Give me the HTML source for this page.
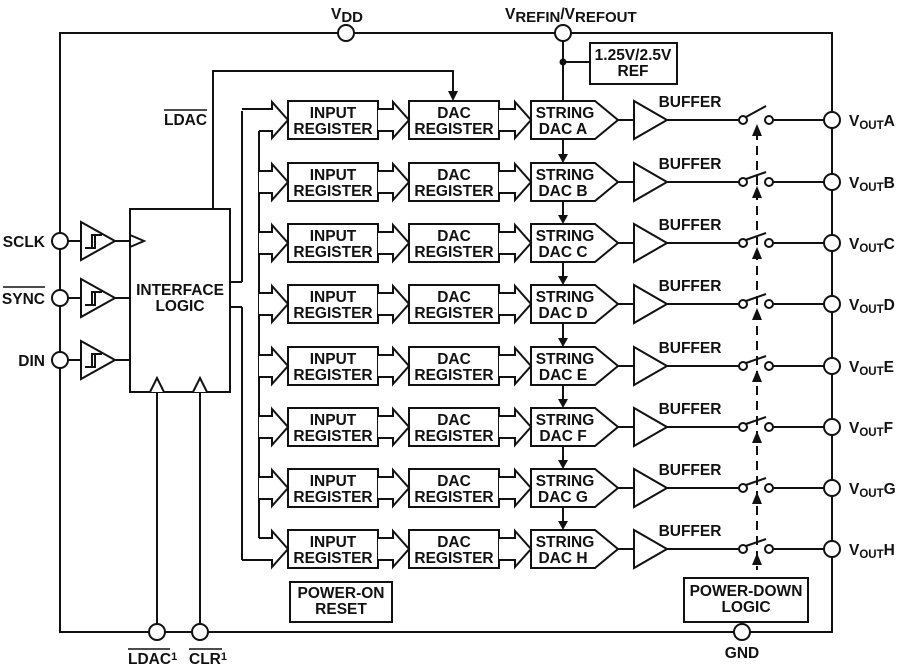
<!DOCTYPE html>
<html><head><meta charset="utf-8"><style>
html,body{margin:0;padding:0;background:#fff;}
svg{display:block;}
text{font-family:"Liberation Sans",Arial,sans-serif;font-weight:bold;font-size:15.5px;fill:#111;}
</style></head><body>
<svg width="899" height="669" viewBox="0 0 899 669" xmlns="http://www.w3.org/2000/svg">
<g fill="none" stroke="#111" stroke-width="2">
<rect x="60" y="33" width="772" height="599"/>
</g>
<script>
const NS="http://www.w3.org/2000/svg";
const svg=document.querySelector('svg');
function el(t,a,txt,parent){const e=document.createElementNS(NS,t);for(const k in a)e.setAttribute(k,a[k]);if(txt!=null)e.textContent=txt;(parent||svg).appendChild(e);return e;}
const S={fill:"none",stroke:"#111","stroke-width":2};
function line(x1,y1,x2,y2,extra){el('line',Object.assign({x1,y1,x2,y2},S,extra||{}));}
function pl(pts,fill){el('polyline',Object.assign({},S,{points:pts,fill:fill||"none"}));}
function circ(x,y,r){el('circle',{cx:x,cy:y,r:r,fill:"#fff",stroke:"#111","stroke-width":2});}
function txt(x,y,s,anchor,size){const a={x,y,"text-anchor":anchor||"middle"};if(size)a["font-size"]=size;return el('text',a,s);}
function rich(x,y,parts,anchor,size){const a={x,y,"text-anchor":anchor||"start"};if(size)a["font-size"]=size;const t=el('text',a);parts.forEach(p=>{const a={};if(p[1])a["font-size"]=p[1];if(p[2])a.dy=p[2];el('tspan',a,p[0],t);});return t;}
function hollow(x0,x1,r){
  const hb=x1-16;
  pl(`${x0},${r-11} ${hb},${r-11} ${hb},${r-18} ${x1},${r} ${hb},${r+18} ${hb},${r+11} ${x0},${r+11}`,"#fff");
}
const rows=[120,182,243,304,366,427,488,549];
const L="ABCDEFGH";
line(242,111,242,282); line(230,282,242,282);
line(242,307,242,560); line(230,307,242,307);
line(259,131,259,538);
rows.forEach((r,i)=>{
  hollow(259,288,r);
  if(i==0) line(242,109,259,109);
  if(i==7) line(242,560,259,560);
  el('rect',Object.assign({x:288,y:r-19,width:90,height:38},S));
  txt(333,r-2,"INPUT"); txt(333,r+14,"REGISTER");
  hollow(378,409,r);
  el('rect',Object.assign({x:409,y:r-19,width:90,height:38},S));
  txt(454,r-2,"DAC"); txt(454,r+14,"REGISTER");
  hollow(499,531,r);
  el('polygon',Object.assign({},S,{points:`531,${r-19} 595,${r-19} 618,${r} 595,${r+19} 531,${r+19}`}));
  txt(565,r-2,"STRING"); txt(563,r+14,"DAC "+L[i]);
  line(618,r,634,r);
  el('polygon',Object.assign({},S,{points:`634,${r-19} 667,${r} 634,${r+19}`}));
  txt(690,r-13,"BUFFER");
  line(667,r,739,r);
  line(773,r,824,r);
  circ(743,r,4); circ(769,r,4);
  line(746,r-3,766,r-10+(i==0?-4:0));
  circ(832,r,8);
  rich(849,r+6,[["V"],["OUT","11.5","3"],[L[i],null,"-3"]]);
  if(i<7){ line(563,r+19,563,rows[i+1]-26); el('polygon',{points:`558,${rows[i+1]-28} 568,${rows[i+1]-28} 563,${rows[i+1]-19}`,fill:"#111"}); }
});
line(757,131,757,570,{"stroke-dasharray":"9,6"});
rows.forEach(r=>el('polygon',{points:`752,${r+16} 762,${r+16} 757,${r+4}`,fill:"#111"}));
el('rect',Object.assign({},S,{x:684,y:578,width:124,height:44,fill:"#fff"}));
txt(746,596,"POWER-DOWN"); txt(746,612,"LOGIC");
el('rect',Object.assign({x:290,y:582,width:102,height:40},S));
txt(341,598,"POWER-ON"); txt(341,614,"RESET");
line(563,41,563,101);
el('circle',{cx:563,cy:62,r:3.5,fill:"#111"});
line(563,62,590,62);
el('rect',Object.assign({},S,{x:590,y:43,width:87,height:41,fill:"#fff"}));
txt(633,60,"1.25V/2.5V"); txt(633,76,"REF");
circ(346,33,8); circ(563,33,8);
rich(331,19,[["V"],["DD","15","3"]],"start","18");
rich(505,19,[["V"],["REFIN","15","3"],["/V",null,"-3"],["REFOUT","15","3"]],"start","18");
pl("213,209 213,71 453,71 453,92");
el('polygon',{points:`448,91 458,91 453,101`,fill:"#111"});
txt(164,125,"LDAC","start"); line(164,110,207,110,{"stroke-width":1.5});
el('rect',Object.assign({},S,{x:130,y:209,width:100,height:183,fill:"#fff"}));
txt(180,295,"INTERFACE"); txt(180,311,"LOGIC");
pl("130,235 144,241 130,247");
[[241,"SCLK"],[298,"SYNC"],[360,"DIN"]].forEach(([y,n])=>{
  circ(60,y,8); line(68,y,81,y);
  el('polygon',Object.assign({},S,{points:`81,${y-19} 115,${y} 81,${y+19}`}));
  pl(`85,${y+7} 92,${y+7} 92,${y-6} 99,${y-6}`); pl(`88,${y+7} 95,${y+7} 95,${y-6} 102,${y-6}`);
  line(115,y,130,y);
  txt(45,y+6,n,"end");
  if(n=="SYNC") line(3,y-11,45,y-11,{"stroke-width":1.5});
});
line(157,392,157,624); line(200,392,200,624);
pl("150,392 157,378 164,392","#fff"); pl("193,392 200,378 207,392","#fff");
circ(157,632,8); circ(200,632,8); circ(742,632,8);
rich(128,664,[["LDAC"],["1","11","-4"]]);
line(128,649,170,649,{"stroke-width":1.5});
rich(189,664,[["CLR"],["1","11","-4"]]);
line(189,649,222,649,{"stroke-width":1.5});
txt(742,658,"GND");
</script>
</svg>
</body></html>
